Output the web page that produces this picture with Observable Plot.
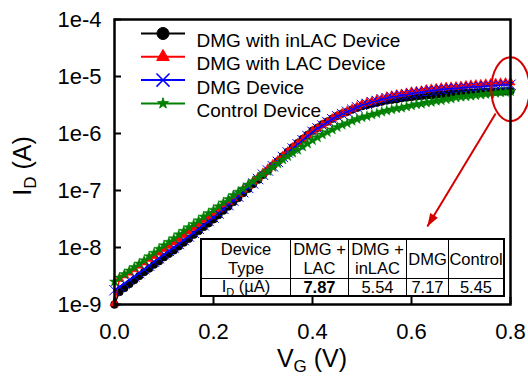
<!DOCTYPE html>
<html><head><meta charset="utf-8">
<script src="https://cdn.jsdelivr.net/npm/d3@7"></script>
<script src="https://cdn.jsdelivr.net/npm/@observablehq/plot@0.6"></script>
<style>
body{margin:0;background:#fff;}
#wrap{position:relative;width:528px;height:376px;font-family:"Liberation Sans",Arial,Helvetica,sans-serif;overflow:hidden;}
#wrap svg{position:absolute;left:0;top:0;}
#tbl{position:absolute;left:200px;top:238px;width:305px;height:59px;box-sizing:border-box;border:2px solid #000;background:#fff;display:grid;grid-template-columns:89px 58px 58px 42px 54px;grid-template-rows:39px 16px;font-size:16.5px;line-height:19px;color:#000;}
#tbl > div{box-sizing:border-box;border-right:1.5px solid #000;display:flex;align-items:center;justify-content:center;text-align:center;white-space:nowrap;}
#tbl > div.last{border-right:none;}
#tbl > div.h{border-bottom:1.5px solid #000;}
#tbl > div.v{line-height:16px;}
#tbl sub{font-size:11px;vertical-align:baseline;position:relative;top:4px;}
</style></head>
<body><div id="wrap"></div>
<script>
// ---- data ----
const seriesNames = ["DMG with inLAC Device", "DMG with LAC Device", "DMG Device", "Control Device"];
const VG = [0,0.01,0.02,0.03,0.04,0.05,0.06,0.07,0.08,0.09,
 0.10,0.11,0.12,0.13,0.14,0.15,0.16,0.17,0.18,0.19,
 0.20,0.21,0.22,0.23,0.24,0.25,0.26,0.27,0.28,0.29,
 0.30,0.31,0.32,0.33,0.34,0.35,0.36,0.37,0.38,0.39,
 0.40,0.41,0.42,0.43,0.44,0.45,0.46,0.47,0.48,0.49,
 0.50,0.51,0.52,0.53,0.54,0.55,0.56,0.57,0.58,0.59,
 0.60,0.61,0.62,0.63,0.64,0.65,0.66,0.67,0.68,0.69,
 0.70,0.71,0.72,0.73,0.74,0.75,0.76,0.77,0.78,0.79,0.80];
const ID_inLAC = [1.00e-9,1.66e-9,1.95e-9,2.29e-9,2.69e-9,3.16e-9,3.72e-9,4.27e-9,5.01e-9,5.75e-9,
 6.76e-9,7.76e-9,8.91e-9,1.05e-8,1.22e-8,1.42e-8,1.68e-8,1.95e-8,2.30e-8,2.66e-8,
 3.13e-8,3.70e-8,4.45e-8,5.25e-8,6.30e-8,7.40e-8,9.00e-8,1.07e-7,1.30e-7,1.55e-7,
 1.88e-7,2.24e-7,2.72e-7,3.25e-7,3.95e-7,4.75e-7,5.70e-7,6.75e-7,8.00e-7,9.45e-7,
 1.12e-6,1.26e-6,1.45e-6,1.62e-6,1.82e-6,2.04e-6,2.24e-6,2.40e-6,2.63e-6,2.82e-6,
 3.02e-6,3.16e-6,3.31e-6,3.47e-6,3.63e-6,3.80e-6,3.89e-6,3.98e-6,4.17e-6,4.27e-6,
 4.37e-6,4.47e-6,4.57e-6,4.62e-6,4.68e-6,4.79e-6,4.85e-6,4.92e-6,4.99e-6,5.06e-6,
 5.13e-6,5.18e-6,5.22e-6,5.27e-6,5.32e-6,5.37e-6,5.41e-6,5.45e-6,5.47e-6,5.51e-6,5.54e-6];
const ID_LAC = [1.05e-9,2.82e-9,3.24e-9,3.63e-9,4.17e-9,4.79e-9,5.50e-9,6.31e-9,7.08e-9,8.13e-9,
 9.33e-9,1.07e-8,1.23e-8,1.41e-8,1.65e-8,1.92e-8,2.22e-8,2.56e-8,3.02e-8,3.48e-8,
 4.02e-8,4.72e-8,5.55e-8,6.35e-8,7.45e-8,8.75e-8,1.04e-7,1.21e-7,1.44e-7,1.69e-7,
 2.02e-7,2.40e-7,2.86e-7,3.35e-7,4.00e-7,4.78e-7,5.65e-7,6.65e-7,7.85e-7,9.25e-7,
 1.10e-6,1.23e-6,1.41e-6,1.58e-6,1.82e-6,2.04e-6,2.24e-6,2.45e-6,2.69e-6,2.95e-6,
 3.24e-6,3.47e-6,3.63e-6,3.89e-6,4.07e-6,4.37e-6,4.57e-6,4.79e-6,4.90e-6,5.13e-6,
 5.37e-6,5.50e-6,5.62e-6,5.89e-6,6.03e-6,6.17e-6,6.31e-6,6.46e-6,6.53e-6,6.61e-6,
 6.76e-6,6.92e-6,7.08e-6,7.16e-6,7.24e-6,7.41e-6,7.50e-6,7.59e-6,7.69e-6,7.78e-6,7.87e-6];
const ID_DMG = [1.78e-9,2.04e-9,2.34e-9,2.69e-9,3.09e-9,3.55e-9,4.17e-9,4.79e-9,5.62e-9,6.46e-9,
 7.59e-9,8.71e-9,1.00e-8,1.15e-8,1.35e-8,1.56e-8,1.81e-8,2.14e-8,2.46e-8,2.91e-8,
 3.36e-8,3.96e-8,4.76e-8,5.55e-8,6.65e-8,7.80e-8,9.35e-8,1.11e-7,1.33e-7,1.59e-7,
 1.89e-7,2.24e-7,2.66e-7,3.18e-7,3.88e-7,4.65e-7,5.45e-7,6.45e-7,7.62e-7,9.00e-7,
 1.07e-6,1.23e-6,1.38e-6,1.58e-6,1.78e-6,2.00e-6,2.19e-6,2.40e-6,2.63e-6,2.88e-6,
 3.16e-6,3.31e-6,3.55e-6,3.72e-6,3.98e-6,4.17e-6,4.37e-6,4.47e-6,4.68e-6,4.79e-6,
 5.01e-6,5.13e-6,5.25e-6,5.50e-6,5.62e-6,5.75e-6,5.89e-6,6.03e-6,6.10e-6,6.17e-6,
 6.31e-6,6.40e-6,6.47e-6,6.56e-6,6.64e-6,6.73e-6,6.82e-6,6.90e-6,6.99e-6,7.08e-6,7.17e-6];
const ID_Control = [2.51e-9,2.95e-9,3.40e-9,3.92e-9,4.50e-9,5.20e-9,5.95e-9,7.00e-9,8.05e-9,9.45e-9,
 1.09e-8,1.25e-8,1.44e-8,1.69e-8,1.96e-8,2.25e-8,2.58e-8,2.98e-8,3.48e-8,3.99e-8,
 4.58e-8,5.25e-8,6.15e-8,7.05e-8,8.25e-8,9.45e-8,1.08e-7,1.26e-7,1.44e-7,1.68e-7,
 1.92e-7,2.19e-7,2.57e-7,2.95e-7,3.47e-7,3.98e-7,4.57e-7,5.13e-7,5.89e-7,6.61e-7,
 7.59e-7,8.51e-7,9.55e-7,1.05e-6,1.17e-6,1.29e-6,1.41e-6,1.51e-6,1.66e-6,1.78e-6,
 1.91e-6,2.00e-6,2.14e-6,2.24e-6,2.40e-6,2.51e-6,2.63e-6,2.75e-6,2.82e-6,2.95e-6,
 3.09e-6,3.24e-6,3.31e-6,3.47e-6,3.55e-6,3.72e-6,3.80e-6,3.98e-6,4.07e-6,4.27e-6,
 4.37e-6,4.47e-6,4.57e-6,4.68e-6,4.79e-6,4.90e-6,5.01e-6,5.13e-6,5.25e-6,5.33e-6,5.45e-6];
const xTicks = [0, 0.2, 0.4, 0.6, 0.8];
const yTicks = [1e-9, 1e-8, 1e-7, 1e-6, 1e-5, 1e-4];
const tableHeader = ["Device\nType", "DMG +\nLAC", "DMG +\ninLAC", "DMG", "Control"];
const tableRowLabel = "I_D (µA)";
const tableValues = [7.87, 5.54, 7.17, 5.45];
// annotation (data coordinates)
const highlight = [{v: 0.8, i: 6.0e-6}];
const arrowFrom = {v: 0.770, i: 2.24e-6};
const arrowTo = {v: 0.632, i: 2.33e-8};

// ---- styles ----
const seriesValues = [ID_inLAC, ID_LAC, ID_DMG, ID_Control];
const colors = ["#000000", "#ff0000", "#0000ff", "#008000"];
const sty = [
  {symbol: "circle", r: 3.9, fill: colors[0], sw: 0.5, lr: 6},
  {symbol: "triangle", r: 3.4, fill: colors[1], sw: 0.5, lr: 4.7},
  {symbol: "times", r: 4.8, fill: "none", sw: 1, lr: 6},
  {symbol: "star", r: 3.2, fill: colors[3], sw: 0.5, lr: 3.4}
];
const legendLine = {draw(ctx){ ctx.moveTo(-22, 0); ctx.lineTo(22, 0); }};
const ellipse = {draw(ctx, size){
  const R = Math.sqrt(size / Math.PI), rx = R * 0.6, ry = R, k = 0.5523;
  ctx.moveTo(rx, 0);
  ctx.bezierCurveTo(rx, k*ry, k*rx, ry, 0, ry);
  ctx.bezierCurveTo(-k*rx, ry, -rx, k*ry, -rx, 0);
  ctx.bezierCurveTo(-rx, -k*ry, -k*rx, -ry, 0, -ry);
  ctx.bezierCurveTo(k*rx, -ry, rx, -k*ry, rx, 0);
  ctx.closePath();
}};
const head = {draw(ctx){ ctx.moveTo(0, 0); ctx.lineTo(-4.5, 13); ctx.lineTo(4.5, 13); ctx.closePath(); }};
const annoColor = "#d40000";

const marks = [];
seriesValues.forEach((vals, k) => {
  const rows = VG.map((v, j) => ({v, i: vals[j]}));
  marks.push(Plot.line(rows, {x: "v", y: "i", stroke: colors[k], strokeWidth: 1.5}));
  marks.push(Plot.dot(rows, {x: "v", y: "i", symbol: sty[k].symbol, r: sty[k].r,
    fill: sty[k].fill, stroke: colors[k], strokeWidth: sty[k].sw}));
});
// legend
seriesNames.forEach((name, k) => {
  const dy = 14 + k * 23.3;
  marks.push(Plot.dot([name], {frameAnchor: "top-left", dx: 48.5, dy, symbol: legendLine, stroke: colors[k], strokeWidth: 2, fill: "none"}));
  marks.push(Plot.dot([name], {frameAnchor: "top-left", dx: 48.5, dy, symbol: sty[k].symbol, r: sty[k].lr,
    fill: sty[k].fill, stroke: colors[k], strokeWidth: sty[k].sw + 0.5}));
  marks.push(Plot.text([name], {frameAnchor: "top-left", dx: 82, dy, text: d => d, textAnchor: "start", fontSize: 19, fill: "black"}));
});
// annotations
marks.push(Plot.dot(highlight, {x: "v", y: "i", symbol: ellipse, r: 32, fill: "none", stroke: annoColor, strokeWidth: 2}));
marks.push(Plot.link([arrowFrom], {x1: "v", y1: "i", x2: () => arrowTo.v, y2: () => arrowTo.i, stroke: annoColor, strokeWidth: 2}));
marks.push(Plot.dot([arrowTo], {x: "v", y: "i", symbol: head, r: 5, fill: annoColor, stroke: "none", rotate: 211}));
// axes + frame
marks.push(Plot.axisX({ticks: xTicks, tickFormat: d3.format(".1f"), tickSize: -7, tickPadding: 26, fontSize: 22, strokeWidth: 2, label: null}));
marks.push(Plot.axisY({ticks: yTicks, tickFormat: d => "1e" + Math.round(Math.log10(d)), tickSize: -7, tickPadding: 20, fontSize: 22, strokeWidth: 2, label: null}));
marks.push(Plot.frame({strokeWidth: 2.5, stroke: "black"}));

const chart = Plot.plot({
  width: 528, height: 376,
  marginLeft: 114, marginRight: 18, marginTop: 19, marginBottom: 72,
  style: {fontFamily: "'Liberation Sans', Arial, Helvetica, sans-serif", fontSize: "22px", color: "black", background: "white", overflow: "visible"},
  x: {domain: [0, 0.8], label: null},
  y: {type: "log", domain: [1e-9, 1e-4], label: null},
  marks
});
const wrap = document.getElementById("wrap");
wrap.appendChild(chart);

// axis titles with subscripts
const svg = d3.select(chart);
const yl = svg.append("text").attr("transform", "translate(31,166) rotate(-90)")
  .attr("text-anchor", "middle").attr("font-size", 25).attr("fill", "black");
yl.append("tspan").text("I");
yl.append("tspan").attr("font-size", 17).attr("dy", 5).text("D");
yl.append("tspan").attr("dy", -5).text(" (A)");
const xl = svg.append("text").attr("x", 312).attr("y", 367)
  .attr("text-anchor", "middle").attr("font-size", 25).attr("fill", "black");
xl.append("tspan").text("V");
xl.append("tspan").attr("font-size", 17).attr("dy", 5).text("G");
xl.append("tspan").attr("dy", -5).text(" (V)");

// inset table
const tbl = document.createElement("div");
tbl.id = "tbl";
const esc = s => s.replace(/&/g, "&amp;").replace(/</g, "&lt;");
tableHeader.forEach((h, c) => {
  const d = document.createElement("div");
  d.className = "h" + (c === tableHeader.length - 1 ? " last" : "");
  d.innerHTML = "<span>" + h.split("\n").map(esc).join("<br>") + "</span>";
  tbl.appendChild(d);
});
const lab = document.createElement("div");
lab.className = "v";
const [pre, post] = tableRowLabel.split("_");
lab.innerHTML = "<span>" + esc(pre) + "<sub>" + esc(post.charAt(0)) + "</sub>" + esc(post.slice(1)) + "</span>";
tbl.appendChild(lab);
const maxVal = d3.max(tableValues);
tableValues.forEach((v, c) => {
  const d = document.createElement("div");
  d.className = "v" + (c === tableValues.length - 1 ? " last" : "");
  d.innerHTML = v === maxVal ? "<b>" + v.toFixed(2) + "</b>" : "<span>" + v.toFixed(2) + "</span>";
  tbl.appendChild(d);
});
wrap.appendChild(tbl);
</script></body></html>
